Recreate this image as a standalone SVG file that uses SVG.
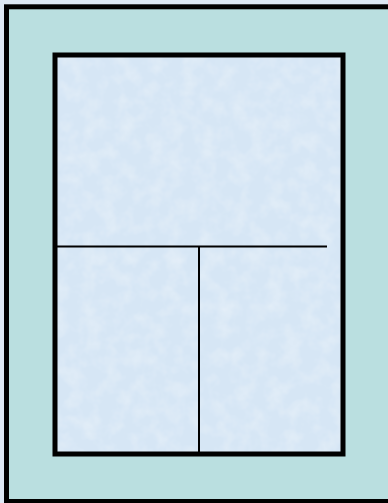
<svg xmlns="http://www.w3.org/2000/svg" width="388" height="503" viewBox="0 0 388 503">
<defs>
<filter id="tex" x="0" y="0" width="100%" height="100%">
<feTurbulence type="fractalNoise" baseFrequency="0.06" numOctaves="3" seed="4" result="n"/>
<feColorMatrix in="n" type="matrix" values="0 0 0 0 1  0 0 0 0 1  0 0 0 0 1  0 0 0 0.55 -0.22" result="w"/>
<feComposite in="w" in2="SourceGraphic" operator="atop"/>
</filter>
<style>
.frame{fill:#badfe0;stroke:#000;stroke-width:5}
.room{fill:#d6e6f5;stroke:#000;stroke-width:5}
.wall{stroke:#000;stroke-width:2;fill:none}
</style>
</defs>
<rect x="0" y="0" width="388" height="503" fill="#dde8f4"/>
<g id="outer">
<rect class="frame" x="6.5" y="6.8" width="420" height="494.7"/>
</g>
<g id="inner">
<rect x="55" y="55" width="288" height="399" fill="#d6e6f5" filter="url(#tex)"/>
<rect x="55" y="55" width="288" height="399" fill="none" stroke="#000" stroke-width="5"/>
</g>
<g id="connectors">
<line class="wall" x1="55" y1="246.5" x2="327" y2="246.5"/>
<line class="wall" x1="199" y1="246" x2="199" y2="454"/>
</g>
</svg>
